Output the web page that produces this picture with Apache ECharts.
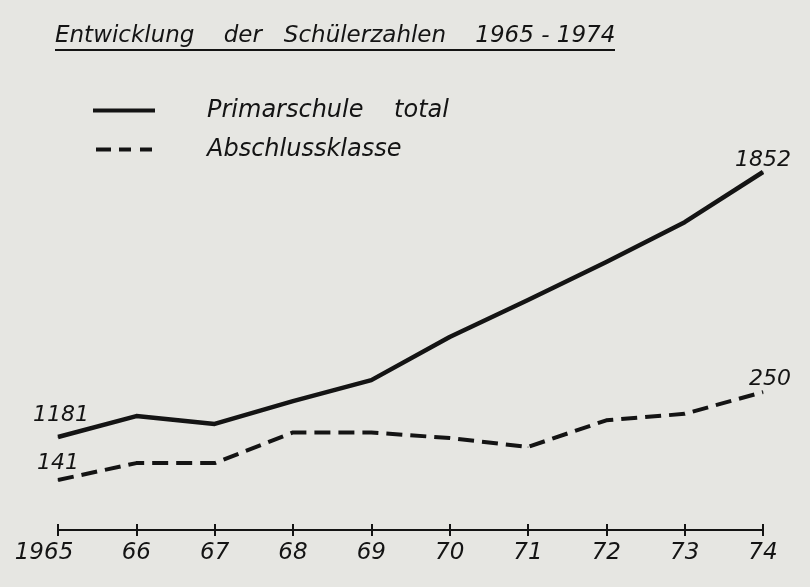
<!DOCTYPE html>
<html>
<head>
<meta charset="utf-8">
<script src="https://cdn.jsdelivr.net/npm/echarts@6/dist/echarts.min.js"></script>
<style>
  html, body { margin: 0; padding: 0; background: #e6e6e2; }
  #chart { width: 810px; height: 587px; }
</style>
</head>
<body>
<div id="chart"></div>
<script>
// Jahre (Achsenbeschriftung)
const years = ['1965', '66', '67', '68', '69', '70', '71', '72', '73', '74'];
// Primarschule total
const primarTotal = [1181, 1234, 1214, 1272, 1325, 1434, 1528, 1624, 1725, 1852];
// Abschlussklasse
const abschluss = [141, 162, 162, 200, 200, 193, 182, 215, 223, 250];

const fontFamily = '"DejaVu Sans", Verdana, sans-serif';
const ink = '#141414';

// nur erster und letzter Wert werden beschriftet
function withEndLabels(values, firstOffset, lastOffset) {
  return values.map((v, i) => {
    if (i === 0 || i === values.length - 1) {
      return {
        value: v,
        label: {
          show: true,
          position: 'top',
          distance: 5,
          offset: i === 0 ? firstOffset : lastOffset
        }
      };
    }
    return v;
  });
}

const labelFont = {
  fontFamily: fontFamily,
  fontStyle: 'italic',
  fontSize: 22,
  color: ink
};

const chart = echarts.init(document.getElementById('chart'));

chart.setOption({
  backgroundColor: '#e6e6e2',
  animation: false,
  title: {
    text: 'Entwicklung    der   Schülerzahlen    1965 - 1974',
    left: 50,
    top: 20,
    textStyle: {
      fontFamily: fontFamily,
      fontStyle: 'italic',
      fontWeight: 'normal',
      fontSize: 23,
      color: ink
    }
  },
  legend: {
    orient: 'vertical',
    left: 88,
    top: 92,
    itemWidth: 62,
    itemHeight: 4,
    itemGap: 12,
    textStyle: {
      fontFamily: fontFamily,
      fontStyle: 'italic',
      fontSize: 24,
      color: ink,
      lineHeight: 27,
      padding: [0, 0, 0, 47]
    },
    data: [
      { name: 'Primarschule    total', icon: 'rect' },
      { name: 'Abschlussklasse', icon: 'path://M0,0h15v4h-15z M23,0h12v4h-12z M44,0h12v4h-12z' }
    ]
  },
  grid: { left: 58, right: 47, top: 100, bottom: 57 },
  xAxis: [
    {
      type: 'category',
      data: years,
      boundaryGap: false,
      position: 'bottom',
      axisLine: { lineStyle: { color: ink, width: 2 } },
      axisTick: { length: 6, lineStyle: { color: ink, width: 2 } },
      axisLabel: {
        interval: 0,
        hideOverlap: false,
        margin: 12,
        fontFamily: fontFamily,
        fontStyle: 'italic',
        fontSize: 23,
        color: ink,
        formatter: (v, i) => (i === 0 ? '{first|' + v + '}' : v),
        rich: {
          first: {
            fontFamily: fontFamily,
            fontStyle: 'italic',
            fontSize: 23,
            color: ink,
            padding: [0, 28, 0, 0]
          }
        }
      },
      splitLine: { show: false }
    },
    {
      type: 'category',
      data: years,
      boundaryGap: false,
      position: 'bottom',
      offset: 0,
      axisLine: { show: false },
      axisTick: { inside: true, length: 6, lineStyle: { color: ink, width: 2 } },
      axisLabel: { show: false },
      splitLine: { show: false }
    }
  ],
  yAxis: [
    { type: 'value', min: 945.5, max: 2034.3, show: false },
    { type: 'value', min: 79.1, max: 611.8, show: false }
  ],
  series: [
    {
      name: 'Primarschule    total',
      type: 'line',
      yAxisIndex: 0,
      symbol: 'circle',
      symbolSize: 1,
      showSymbol: true,
      lineStyle: { color: ink, width: 4.5, join: 'round' },
      itemStyle: { color: ink },
      label: labelFont,
      data: withEndLabels(primarTotal, [3, -5], [0, 5])
    },
    {
      name: 'Abschlussklasse',
      type: 'line',
      yAxisIndex: 1,
      symbol: 'circle',
      symbolSize: 1,
      showSymbol: true,
      lineStyle: { color: ink, width: 4, type: [16, 8] },
      itemStyle: { color: ink },
      label: labelFont,
      data: withEndLabels(abschluss, [0, 0], [7, 4])
    }
  ],
  graphic: [
    {
      type: 'line',
      shape: { x1: 55, y1: 50, x2: 615, y2: 50 },
      style: { stroke: ink, lineWidth: 2 }
    }
  ]
});

window.addEventListener('resize', () => chart.resize());
</script>
</body>
</html>
